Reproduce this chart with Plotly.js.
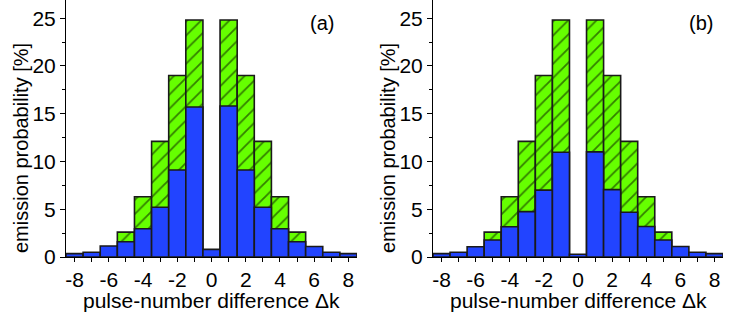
<!DOCTYPE html>
<html>
<head>
<meta charset="utf-8">
<script src="https://cdn.plot.ly/plotly-3.0.1.min.js"></script>
<style>html,body{margin:0;padding:0;background:#fff;}#chart{width:747px;height:315px;}</style>
</head>
<body>
<div id="chart"></div>
<script>
const k = [-8,-7,-6,-5,-4,-3,-2,-1,0,1,2,3,4,5,6,7,8];
const totalA = [null,null,null,2.6,6.3,12.1,19.0,24.8,null,24.8,19.0,12.1,6.3,2.6,null,null,null];
const blueA  = [0.35,0.5,1.15,1.6,2.95,5.2,9.1,15.7,0.8,15.8,9.1,5.2,2.95,1.6,1.1,0.5,0.35];
const totalB = [null,null,null,2.6,6.3,12.1,19.0,24.8,null,24.8,19.0,12.1,6.3,2.6,null,null,null];
const blueB  = [0.35,0.49,1.08,1.78,3.17,4.75,7.0,10.96,0.28,11.0,7.05,4.68,3.2,1.78,1.1,0.49,0.35];
const xTickVals = [-8,-6,-4,-2,0,2,4,6,8];
const xTickText = ['-8','-6','-4','-2','0','2','4','6','8'];
const panelLabels = ['(a)','(b)'];
const xTitle = 'pulse-number difference \u0394k';
const yTitle = 'emission probability [%]';

const GREEN = '#66ff00', BLUE = '#2244ff', EDGE = '#1a1a1a';
const FONT = 'Liberation Sans, Arial, sans-serif';
const W = 747, H = 315, PH = 257;

function greenTrace(y, xa, ya){
  return {type:'bar', x:k, y:y, xaxis:xa, yaxis:ya, width:1,
    marker:{color:GREEN, line:{color:EDGE, width:1.6},
      pattern:{shape:'/', fgcolor:'#000', bgcolor:GREEN, fillmode:'overlay', size:10, solidity:0.18}},
    hoverinfo:'skip', showlegend:false};
}
function blueTrace(y, xa, ya){
  return {type:'bar', x:k, y:y, xaxis:xa, yaxis:ya, width:1,
    marker:{color:BLUE, line:{color:EDGE, width:1.6}},
    hoverinfo:'skip', showlegend:false};
}
const data = [greenTrace(totalA,'x','y'), blueTrace(blueA,'x','y'),
              greenTrace(totalB,'x2','y2'), blueTrace(blueB,'x2','y2')];

function xax(domain, anchor){
  return {domain:domain, anchor:anchor, range:[-8.5,8.5],
    tickmode:'array', tickvals:xTickVals, ticktext:xTickText,
    ticks:'outside', ticklen:4, tickwidth:1, tickcolor:'#000',
    minor:{tickmode:'array', tickvals:k, ticks:'outside', ticklen:4, tickwidth:1, tickcolor:'#000'},
    showline:true, linecolor:'#000', linewidth:1, showgrid:false, zeroline:false,
    tickfont:{family:FONT, size:21, color:'#000'}};
}
function yax(anchor){
  return {domain:[0,1], anchor:anchor, range:[0,26.9], dtick:5,
    ticks:'outside', ticklen:5, tickwidth:1, tickcolor:'#000',
    minor:{dtick:2.5, ticks:'outside', ticklen:3, tickwidth:1, tickcolor:'#000'},
    showline:true, linecolor:'#000', linewidth:1, showgrid:false, zeroline:false,
    tickfont:{family:FONT, size:21, color:'#000'}};
}
const xd1 = [66/W, 357/W], xd2 = [433/W, 723/W];
function titleAnns(xd, xref, yref, label, lx){
  return [
    {text:xTitle, xref:'paper', yref:'paper', x:(xd[0]+xd[1])/2, y:(PH-300)/PH, yanchor:'middle', xanchor:'center',
     showarrow:false, font:{family:FONT, size:21, color:'#000'}},
    {text:yTitle, xref:'paper', yref:'paper', x:(xd[0]*W-45)/W, y:(PH-148)/PH, yanchor:'middle', xanchor:'center',
     textangle:-90, showarrow:false, font:{family:FONT, size:20, color:'#000'}},
    {text:label, xref:xref, yref:yref, x:lx, y:24.5, showarrow:false, font:{family:FONT,size:20,color:'#000'}}
  ];
}
const layout = {
  width:W, height:H, margin:{l:0,r:0,t:0,b:H-PH},
  paper_bgcolor:'#fff', plot_bgcolor:'#fff', barmode:'overlay', bargap:0,
  xaxis: xax(xd1, 'y'),
  yaxis: yax('x'),
  xaxis2: xax(xd2, 'y2'),
  yaxis2: yax('x2'),
  annotations: titleAnns(xd1,'x','y',panelLabels[0],6.48).concat(titleAnns(xd2,'x2','y2',panelLabels[1],7.2))
};
Plotly.newPlot('chart', data, layout, {staticPlot:true, displayModeBar:false});
</script>
</body>
</html>
